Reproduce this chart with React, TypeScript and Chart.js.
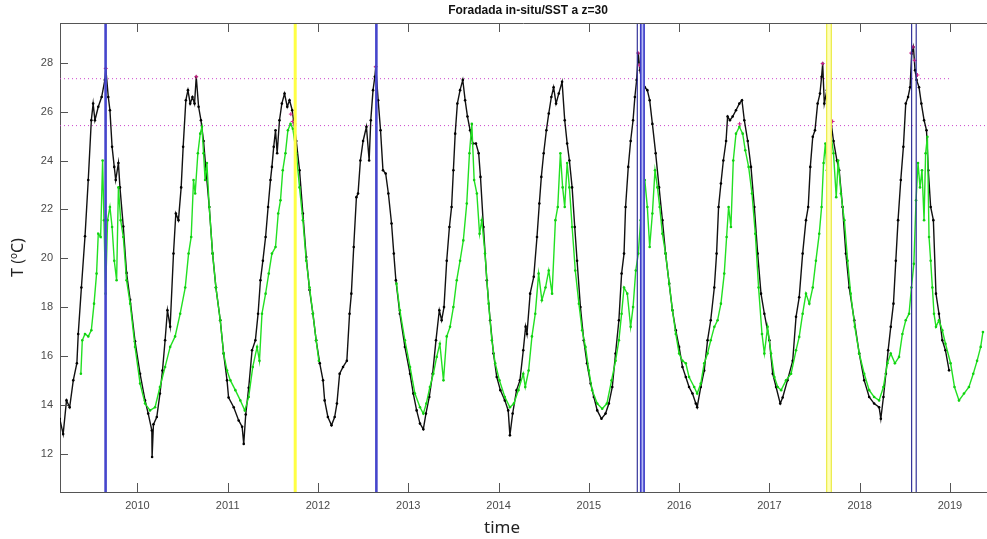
import React, { useEffect, useRef } from "react";
import { Chart, registerables } from "chart.js";

Chart.register(...registerables);

// ---- axis ranges & ticks ----
const X_MIN = 2009.143;
const X_MAX = 2019.41;
const Y_MIN = 10.43;
const Y_MAX = 29.63;
const yearTicks = [2010, 2011, 2012, 2013, 2014, 2015, 2016, 2017, 2018, 2019];
const tempTicks = [12, 14, 16, 18, 20, 22, 24, 26, 28];

const titleText = "Foradada in-situ/SST a z=30";
const xLabel = "time";
const yLabel = "T (ºC)";

// ---- in-situ temperature at z=30 (black) ----
const insituTime = [
  2009.14, 2009.178, 2009.215, 2009.25, 2009.29, 2009.33, 2009.345, 2009.38, 2009.42, 2009.456,
  2009.49, 2009.51, 2009.53, 2009.567, 2009.604, 2009.64, 2009.65, 2009.678, 2009.696, 2009.72,
  2009.744, 2009.76, 2009.79, 2009.807, 2009.844, 2009.88, 2009.92, 2009.974, 2010.03, 2010.085,
  2010.12, 2010.16, 2010.163, 2010.178, 2010.215, 2010.25, 2010.278, 2010.307, 2010.333, 2010.363,
  2010.4, 2010.426, 2010.455, 2010.485, 2010.507, 2010.537, 2010.56, 2010.585, 2010.61, 2010.633,
  2010.652, 2010.678, 2010.704, 2010.733, 2010.76, 2010.796, 2010.833, 2010.87, 2010.918, 2010.955,
  2010.993, 2011.01, 2011.067, 2011.122, 2011.16, 2011.178, 2011.2, 2011.233, 2011.27, 2011.307,
  2011.337, 2011.363, 2011.39, 2011.42, 2011.448, 2011.474, 2011.49, 2011.51, 2011.53, 2011.548,
  2011.574, 2011.6, 2011.63, 2011.66, 2011.685, 2011.715, 2011.76, 2011.796, 2011.833, 2011.87,
  2011.907, 2011.944, 2011.98, 2012.02, 2012.056, 2012.074, 2012.11, 2012.15, 2012.185, 2012.21,
  2012.24, 2012.278, 2012.32, 2012.35, 2012.37, 2012.396, 2012.426, 2012.444, 2012.47, 2012.5,
  2012.537, 2012.567, 2012.585, 2012.61, 2012.63, 2012.64, 2012.667, 2012.693, 2012.72, 2012.75,
  2012.78, 2012.815, 2012.84, 2012.863, 2012.907, 2012.963, 2013.02, 2013.056, 2013.093, 2013.13,
  2013.167, 2013.196, 2013.233, 2013.27, 2013.307, 2013.344, 2013.37, 2013.396, 2013.426, 2013.456,
  2013.48, 2013.5, 2013.52, 2013.544, 2013.574, 2013.604, 2013.63, 2013.656, 2013.685, 2013.715,
  2013.75, 2013.78, 2013.8, 2013.833, 2013.87, 2013.907, 2013.944, 2013.98, 2014.02, 2014.07,
  2014.107, 2014.126, 2014.156, 2014.2, 2014.237, 2014.274, 2014.3, 2014.315, 2014.35, 2014.39,
  2014.426, 2014.452, 2014.474, 2014.5, 2014.53, 2014.556, 2014.585, 2014.61, 2014.637, 2014.667,
  2014.704, 2014.733, 2014.76, 2014.785, 2014.815, 2014.844, 2014.87, 2014.907, 2014.944, 2014.98,
  2015.02, 2015.056, 2015.093, 2015.14, 2015.185, 2015.222, 2015.26, 2015.296, 2015.333, 2015.363,
  2015.39, 2015.407, 2015.437, 2015.463, 2015.49, 2015.51, 2015.53, 2015.548, 2015.567, 2015.585,
  2015.6, 2015.62, 2015.648, 2015.674, 2015.704, 2015.74, 2015.778, 2015.815, 2015.85, 2015.89,
  2015.926, 2015.963, 2016.0, 2016.037, 2016.074, 2016.11, 2016.148, 2016.185, 2016.2, 2016.24,
  2016.278, 2016.315, 2016.35, 2016.39, 2016.415, 2016.437, 2016.463, 2016.49, 2016.52, 2016.537,
  2016.563, 2016.593, 2016.63, 2016.667, 2016.696, 2016.722, 2016.76, 2016.796, 2016.833, 2016.87,
  2016.907, 2016.944, 2017.0, 2017.037, 2017.074, 2017.12, 2017.147, 2017.2, 2017.258, 2017.295,
  2017.33, 2017.368, 2017.405, 2017.43, 2017.453, 2017.48, 2017.505, 2017.534, 2017.56, 2017.578,
  2017.59, 2017.608, 2017.637, 2017.663, 2017.68, 2017.71, 2017.748, 2017.773, 2017.81, 2017.847,
  2017.884, 2017.94, 2017.995, 2018.05, 2018.105, 2018.16, 2018.215, 2018.234, 2018.263, 2018.29,
  2018.315, 2018.344, 2018.374, 2018.4, 2018.425, 2018.455, 2018.484, 2018.51, 2018.536, 2018.558,
  2018.576, 2018.595, 2018.613, 2018.63, 2018.657, 2018.683, 2018.713, 2018.74, 2018.76, 2018.786,
  2018.816, 2018.845, 2018.878, 2018.915, 2018.95, 2018.99,
];
const insituTemp = [
  13.43, 12.8, 14.18, 13.9, 15.0, 15.7, 16.9, 18.8, 20.9, 23.2,
  25.65, 26.33, 25.65, 26.2, 26.6, 27.3, 27.77, 26.6, 26.06, 24.56,
  23.74, 23.2, 23.9, 22.9, 21.3, 19.4, 18.3, 16.6, 15.27, 14.18,
  13.64, 12.95, 11.86, 13.2, 13.5, 14.46, 15.4, 16.64, 17.87, 17.2,
  20.19, 21.83, 21.56, 22.9, 24.56, 26.47, 26.88, 26.33, 26.6, 26.33,
  27.43, 26.2, 25.65, 24.8, 23.6, 22.1, 20.19, 18.8, 17.46, 16.1,
  15.0, 14.3, 13.9, 13.36, 13.1, 12.4, 13.6, 14.7, 16.23, 16.64,
  17.73, 19.1, 19.9, 20.87, 22.1, 23.2, 23.74, 24.56, 25.24, 24.3,
  25.65, 26.33, 26.74, 26.2, 26.47, 26.06, 24.8, 23.6, 21.83, 20.05,
  18.7, 17.73, 16.64, 15.7, 15.0, 14.18, 13.5, 13.16, 13.5, 14.05,
  15.27, 15.55, 15.8, 17.73, 18.55, 20.46, 22.5, 22.65, 24.0, 24.8,
  25.38, 24.0, 25.65, 26.88, 27.43, 27.84, 26.47, 25.24, 23.6, 23.47,
  22.65, 21.42, 20.19, 19.1, 17.73, 16.37, 15.27, 14.46, 13.77, 13.23,
  13.0, 13.64, 14.32, 15.27, 16.64, 17.87, 17.46, 18.0, 19.9, 21.28,
  22.1, 23.6, 25.1, 26.33, 26.88, 27.3, 26.47, 25.8, 25.24, 24.7,
  24.7, 24.3, 23.33, 21.28, 19.1, 17.46, 16.1, 15.14, 14.6, 14.18,
  13.77, 12.75, 13.64, 14.6, 15.0, 16.23, 17.2, 16.9, 18.55, 19.24,
  20.87, 22.24, 23.33, 24.3, 25.24, 25.92, 26.6, 27.0, 26.33, 26.74,
  27.22, 25.65, 24.7, 24.0, 22.9, 21.28, 19.9, 18.0, 16.64, 15.7,
  14.87, 14.32, 13.77, 13.43, 13.64, 14.05, 14.73, 16.1, 17.46, 19.37,
  20.19, 22.1, 23.74, 24.8, 25.65, 26.6, 27.3, 28.38, 27.7, 27.97,
  27.3, 27.0, 26.88, 26.47, 25.5, 24.3, 22.9, 21.56, 20.19, 18.96,
  17.87, 17.05, 16.37, 15.55, 15.14, 14.73, 14.46, 14.05, 13.9, 14.73,
  15.4, 16.64, 17.46, 18.8, 20.19, 22.1, 23.06, 24.0, 24.8, 25.8,
  25.65, 25.8, 26.06, 26.33, 26.47, 25.65, 24.8, 23.74, 22.1, 20.19,
  18.55, 17.73, 16.64, 15.27, 14.73, 14.05, 14.3, 15.0, 15.8, 17.6,
  18.4, 20.19, 21.56, 22.1, 23.74, 24.97, 25.24, 26.33, 26.74, 27.43,
  27.97, 26.33, 26.88, 27.0, 25.65, 24.8, 24.0, 23.6, 22.1, 20.19,
  18.8, 17.46, 16.1, 15.0, 14.32, 14.05, 13.9, 13.43, 14.32, 15.27,
  16.23, 17.19, 18.14, 19.9, 21.56, 23.2, 24.56, 26.33, 26.6, 27.0,
  28.38, 28.65, 27.7, 27.3, 27.0, 26.33, 25.65, 25.24, 23.6, 22.1,
  21.56, 18.55, 17.73, 16.64, 16.23, 15.41,
];

// ---- SST (green); null marks the data gap ----
const sstTime = [
  2009.374, 2009.39, 2009.42, 2009.456, 2009.49, 2009.52, 2009.548, 2009.567, 2009.593, 2009.615,
  2009.63, 2009.648, 2009.67, 2009.696, 2009.72, 2009.744, 2009.77, 2009.79, 2009.815, 2009.844,
  2009.88, 2009.92, 2009.974, 2010.03, 2010.085, 2010.14, 2010.196, 2010.25, 2010.307, 2010.363,
  2010.418, 2010.474, 2010.53, 2010.567, 2010.596, 2010.622, 2010.64, 2010.67, 2010.696, 2010.715,
  2010.733, 2010.75, 2010.77, 2010.796, 2010.833, 2010.87, 2010.918, 2010.955, 2010.993, 2011.03,
  2011.085, 2011.14, 2011.19, 2011.233, 2011.278, 2011.326, 2011.352, 2011.38, 2011.42, 2011.455,
  2011.49, 2011.53, 2011.56, 2011.585, 2011.61, 2011.64, 2011.667, 2011.696, 2011.722, 2011.76,
  2011.796, 2011.833, 2011.87, 2011.907, 2011.944, 2011.98, 2012.01, 2012.44,
  2012.87, 2012.907, 2012.963, 2013.02, 2013.074, 2013.13, 2013.167, 2013.2, 2013.24, 2013.278,
  2013.315, 2013.35, 2013.39, 2013.426, 2013.463, 2013.5, 2013.537, 2013.574, 2013.61, 2013.648,
  2013.678, 2013.704, 2013.73, 2013.76, 2013.79, 2013.815, 2013.85, 2013.89, 2013.926, 2013.963,
  2014.01, 2014.07, 2014.126, 2014.17, 2014.22, 2014.274, 2014.296, 2014.333, 2014.37, 2014.407,
  2014.444, 2014.48, 2014.52, 2014.556, 2014.593, 2014.63, 2014.656, 2014.685, 2014.71, 2014.733,
  2014.76, 2014.785, 2014.815, 2014.85, 2014.89, 2014.926, 2014.963, 2015.0, 2015.037, 2015.093,
  2015.148, 2015.2, 2015.252, 2015.296, 2015.333, 2015.363, 2015.39, 2015.426, 2015.463, 2015.49,
  2015.52, 2015.548, 2015.574, 2015.6, 2015.62, 2015.648, 2015.674, 2015.704, 2015.733, 2015.76,
  2015.785, 2015.815, 2015.85, 2015.89, 2015.926, 2015.963, 2016.0, 2016.037, 2016.074, 2016.11,
  2016.167, 2016.2, 2016.24, 2016.278, 2016.315, 2016.35, 2016.39, 2016.426, 2016.463, 2016.5,
  2016.526, 2016.548, 2016.574, 2016.6, 2016.63, 2016.667, 2016.704, 2016.733, 2016.77, 2016.807,
  2016.844, 2016.88, 2016.918, 2016.944, 2016.98, 2017.018, 2017.055, 2017.092, 2017.13, 2017.184,
  2017.24, 2017.295, 2017.33, 2017.368, 2017.405, 2017.442, 2017.48, 2017.515, 2017.552, 2017.578,
  2017.6, 2017.62, 2017.637, 2017.663, 2017.68, 2017.71, 2017.74, 2017.762, 2017.792, 2017.83,
  2017.866, 2017.9, 2017.946, 2017.995, 2018.05, 2018.105, 2018.16, 2018.215, 2018.263, 2018.307,
  2018.344, 2018.39, 2018.436, 2018.473, 2018.51, 2018.547, 2018.573, 2018.6, 2018.624, 2018.646,
  2018.668, 2018.69, 2018.713, 2018.73, 2018.75, 2018.768, 2018.786, 2018.805, 2018.823, 2018.845,
  2018.878, 2018.915, 2018.95, 2019.007, 2019.05, 2019.1, 2019.155, 2019.21, 2019.258, 2019.3,
  2019.34, 2019.365,
];
const sstTemp = [
  15.27, 16.64, 16.9, 16.8, 17.05, 18.14, 19.37, 21.0, 20.87, 24.0,
  21.56, 18.55, 21.56, 22.1, 21.28, 19.9, 19.1, 22.9, 21.56, 20.87,
  19.1, 18.14, 16.37, 14.87, 14.05, 13.77, 13.9, 14.73, 15.55, 16.37,
  16.8, 17.73, 18.8, 20.19, 20.87, 23.2, 22.65, 24.3, 25.1, 25.38,
  24.3, 23.2, 23.9, 22.1, 20.19, 18.8, 17.46, 16.1, 15.4, 15.0,
  14.6, 14.18, 13.77, 14.32, 15.55, 16.37, 15.8, 17.73, 18.55, 19.37,
  20.19, 20.46, 21.83, 22.37, 23.6, 24.3, 25.24, 25.5, 25.3, 24.3,
  22.9, 21.56, 19.9, 18.8, 17.73, 16.64, 15.8, null,
  18.96, 17.87, 16.64, 15.55, 14.46, 13.9, 13.64, 14.05, 14.73, 15.27,
  15.96, 16.5, 15.0, 16.8, 17.19, 18.0, 19.1, 19.9, 20.73, 22.24,
  24.3, 25.5, 23.2, 22.65, 21.0, 21.56, 20.19, 18.14, 16.64, 15.7,
  15.0, 14.32, 13.9, 14.05, 14.6, 15.27, 14.73, 15.4, 16.8, 17.73,
  19.37, 18.28, 18.8, 19.5, 18.55, 21.56, 22.1, 24.3, 22.9, 22.1,
  23.9, 22.9, 21.28, 19.5, 18.14, 17.05, 16.37, 15.4, 14.6, 14.05,
  13.84, 14.05, 15.0, 15.8, 16.64, 17.73, 18.8, 18.55, 17.19, 18.0,
  19.5, 20.19, 21.56, 22.24, 23.2, 22.1, 20.46, 21.83, 23.6, 22.9,
  22.1, 21.0, 20.19, 18.96, 17.87, 16.9, 16.1, 15.8, 15.7, 15.14,
  14.73, 14.46, 14.87, 15.7, 16.1, 16.64, 17.19, 17.46, 18.14, 19.37,
  20.87, 22.1, 21.28, 24.0, 25.1, 25.38, 25.1, 24.42, 23.74, 22.65,
  21.0, 18.8, 16.9, 16.1, 17.19, 16.1, 15.14, 14.73, 14.6, 15.0,
  15.27, 16.23, 16.78, 17.73, 18.55, 18.14, 18.8, 19.9, 21.0, 22.1,
  23.9, 24.7, 23.6, 25.65, 25.1, 24.3, 22.5, 24.0, 22.65, 21.56,
  19.9, 18.55, 17.19, 16.1, 15.27, 14.6, 14.32, 14.18, 14.73, 15.7,
  16.1, 15.7, 15.96, 16.9, 17.46, 17.73, 18.8, 19.77, 22.37, 23.9,
  22.9, 23.6, 21.56, 24.3, 24.97, 20.87, 19.9, 18.8, 17.73, 17.19,
  17.46, 17.05, 16.5, 15.7, 14.73, 14.18, 14.46, 14.73, 15.27, 15.8,
  16.37, 16.98,
];

// ---- samples flagged above threshold (magenta) ----
const exceedTime = [
  2009.65, 2010.652, 2011.70, 2011.72, 2011.74, 2012.64, 2015.545, 2015.56, 2015.585, 2015.6,
  2016.67, 2017.59, 2017.67, 2017.68, 2017.70, 2018.57, 2018.59, 2018.61, 2018.64,
];
const exceedTemp = [
  27.77, 27.43, 25.9, 25.6, 25.5, 27.84, 28.4, 27.9, 27.6, 27.4,
  25.5, 27.97, 25.9, 25.4, 25.6, 28.4, 28.65, 28.1, 27.5,
];

// ---- thresholds ----
const upperThreshold = 27.35;
const lowerThreshold = 25.43;
const upperThresholdEnd = 2019.0;

// ---- event markers (vertical lines) ----
const blueEventsMajor = [2009.648, 2012.647];
const blueEventsPair = [2015.575, 2015.612];
const blueEventsMinor = [2015.537, 2018.575, 2018.626];
const yellowEventsMajor = [2011.748];
const yellowEventsPair = [2017.634, 2017.686];

const toPoints = (xs: number[], ys: (number | null)[]) => xs.map((x, i) => ({ x, y: ys[i] }));
const vline = (x: number) => [{ x, y: Y_MIN }, { x, y: Y_MAX }];

const FONT = "'Liberation Sans', Arial, sans-serif";

const framePlugin = {
  id: "matlabFrame",
  afterDraw(chart: any) {
    const { ctx, chartArea: a, scales } = chart;
    ctx.save();
    ctx.strokeStyle = "#555555";
    ctx.lineWidth = 1;
    ctx.beginPath();
    ctx.moveTo(a.left, a.top + 0.5);
    ctx.lineTo(a.right, a.top + 0.5);
    yearTicks.forEach((v) => {
      const px = Math.round(scales.x.getPixelForValue(v)) + 0.5;
      ctx.moveTo(px, a.bottom);
      ctx.lineTo(px, a.bottom - 9);
      ctx.moveTo(px, a.top);
      ctx.lineTo(px, a.top + 9);
    });
    tempTicks.forEach((v) => {
      const py = Math.round(scales.y.getPixelForValue(v)) + 0.5;
      ctx.moveTo(a.left, py);
      ctx.lineTo(a.left + 8, py);
    });
    ctx.stroke();

    ctx.fillStyle = "#111111";
    ctx.textAlign = "center";
    ctx.textBaseline = "middle";
    ctx.font = `bold 12px ${FONT}`;
    ctx.fillText(titleText, 528, 11);

    ctx.fillStyle = "#222222";
    ctx.font = "17px 'Noto Sans', 'Open Sans', sans-serif";
    ctx.fillText(xLabel, 502, 528);

    ctx.translate(18, (a.top + a.bottom) / 2);
    ctx.rotate(-Math.PI / 2);
    ctx.font = "16px 'Noto Sans', 'Open Sans', sans-serif";
    ctx.fillText(yLabel, 0, 0);
    ctx.restore();
  },
};

export default function App() {
  const canvasRef = useRef<HTMLCanvasElement | null>(null);

  useEffect(() => {
    if (!canvasRef.current) return;
    const datasets: any[] = [];

    const lineDs = (data: any[], color: string, width: number, order: number, extra: any = {}) => ({
      data,
      borderColor: color,
      backgroundColor: color,
      borderWidth: width,
      pointRadius: 0,
      pointHoverRadius: 0,
      order,
      ...extra,
    });

    // threshold lines
    datasets.push(
      lineDs(
        [{ x: X_MIN, y: upperThreshold }, { x: upperThresholdEnd, y: upperThreshold }],
        "#cc44cc", 1, 10, { borderDash: [1, 3] }
      )
    );
    datasets.push(
      lineDs(
        [{ x: X_MIN, y: lowerThreshold }, { x: X_MAX, y: lowerThreshold }],
        "#cc44cc", 1, 10, { borderDash: [1, 3] }
      )
    );

    // in-situ (black)
    datasets.push({
      data: toPoints(insituTime, insituTemp),
      borderColor: "#111111",
      backgroundColor: "#000000",
      borderWidth: 1.4,
      pointRadius: 1.3,
      pointBorderWidth: 0,
      order: 6,
    });
    // SST (green)
    datasets.push({
      data: toPoints(sstTime, sstTemp),
      borderColor: "#22e022",
      backgroundColor: "#10d010",
      borderWidth: 1.4,
      pointRadius: 1.3,
      pointBorderWidth: 0,
      spanGaps: false,
      order: 5,
    });
    // flagged samples
    datasets.push({
      data: toPoints(exceedTime, exceedTemp),
      showLine: false,
      pointStyle: "cross",
      pointRadius: 2,
      borderColor: "#d0208a",
      backgroundColor: "#d0208a",
      pointBorderWidth: 1,
      order: 4,
    });

    // event lines
    blueEventsMajor.forEach((x) => datasets.push(lineDs(vline(x), "#4646cc", 2.6, 1)));
    yellowEventsMajor.forEach((x) => datasets.push(lineDs(vline(x), "#ffff44", 3, 1)));
    datasets.push(
      lineDs(vline((blueEventsPair[0] + blueEventsPair[1]) / 2), "#b8bdf5", 5, 2)
    );
    blueEventsPair.forEach((x) => datasets.push(lineDs(vline(x), "#3c3cc8", 1.6, 1)));
    datasets.push(
      lineDs(vline((yellowEventsPair[0] + yellowEventsPair[1]) / 2), "#ffffb8", 5, 2)
    );
    yellowEventsPair.forEach((x) => datasets.push(lineDs(vline(x), "#ecec50", 1.3, 1)));
    blueEventsMinor.forEach((x) => datasets.push(lineDs(vline(x), "#34349a", 1.2, 1)));

    const chart = new Chart(canvasRef.current, {
      type: "line",
      data: { datasets },
      options: {
        animation: false,
        responsive: true,
        maintainAspectRatio: false,
        layout: { autoPadding: false, padding: { top: 23, left: 0, right: 0, bottom: 0 } },
        plugins: {
          legend: { display: false },
          tooltip: { enabled: false },
          title: { display: false },
        },
        elements: { line: { tension: 0 } },
        scales: {
          x: {
            type: "linear",
            min: X_MIN,
            max: X_MAX,
            afterBuildTicks: (scale: any) => {
              scale.ticks = yearTicks.map((v) => ({ value: v }));
            },
            afterFit: (scale: any) => {
              scale.height = 47;
              scale.paddingLeft = 0;
              scale.paddingRight = 0;
            },
            grid: { display: false, drawTicks: false },
            border: { display: true, color: "#555555", width: 1 },
            ticks: {
              padding: 7,
              autoSkip: false,
              maxRotation: 0,
              color: "#4a4a4a",
              font: { family: FONT, size: 11 },
              callback: (v: any) => String(v),
            },
          },
          y: {
            type: "linear",
            min: Y_MIN,
            max: Y_MAX,
            afterBuildTicks: (scale: any) => {
              scale.ticks = tempTicks.map((v) => ({ value: v }));
            },
            afterFit: (scale: any) => {
              scale.width = 60;
              scale.paddingTop = 0;
              scale.paddingBottom = 0;
            },
            grid: { display: false, drawTicks: false },
            border: { display: true, color: "#555555", width: 1 },
            ticks: {
              padding: 7,
              autoSkip: false,
              color: "#4a4a4a",
              font: { family: FONT, size: 11 },
              callback: (v: any) => String(v),
            },
          },
        },
      } as any,
      plugins: [framePlugin],
    });
    return () => chart.destroy();
  }, []);

  return (
    <div
      style={{
        position: "fixed",
        left: 0,
        top: 0,
        width: 987,
        height: 539,
        background: "#ffffff",
      }}
    >
      <canvas ref={canvasRef} />
    </div>
  );
}
